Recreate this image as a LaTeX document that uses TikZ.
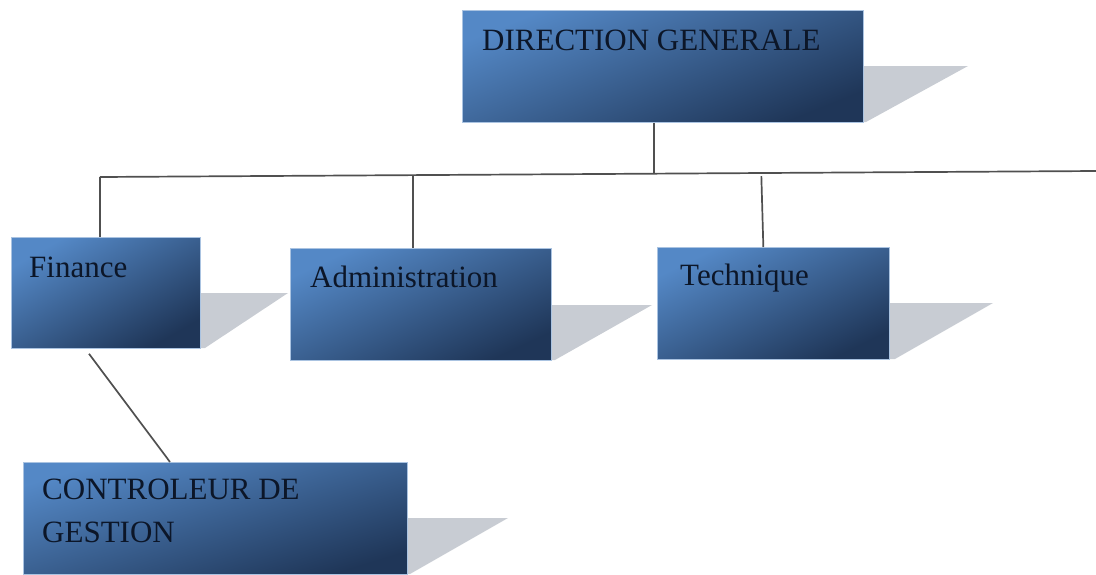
\documentclass[tikz,border=0pt]{standalone}
\usepackage{fontspec}
\setmainfont{Liberation Serif}
\usetikzlibrary{calc}
\definecolor{boxlight}{RGB}{84,136,198}
\definecolor{boxdark}{RGB}{31,54,88}
\definecolor{boxedge}{RGB}{170,195,225}
\definecolor{shadowgray}{RGB}{200,204,211}
\definecolor{ink}{RGB}{12,22,40}
\definecolor{linkgray}{RGB}{80,80,80}
\begin{document}
\begin{tikzpicture}[x=1pt,y=-1pt,
  orgbox/.style={rectangle, anchor=north west, inner sep=0pt, draw=boxedge,
    line width=0.8pt, top color=boxlight, bottom color=boxdark, shading angle=#1},
  orgbox/.default=24,
  orgtext/.style={anchor=base west, inner sep=0pt, text=ink,
    font=\fontsize{31}{40}\selectfont},
  dropshadow/.style={fill=shadowgray, draw=none},
  link/.style={draw=linkgray, line width=1.7pt}]
\useasboundingbox (0,0) rectangle (1096,574);

% cast shadows behind the boxes
\fill[dropshadow] (700,66) -- (968,66) -- (866,122) -- (700,122) -- cycle;
\fill[dropshadow] (150,293) -- (288,293) -- (205,348) -- (150,348) -- cycle;
\fill[dropshadow] (450,305) -- (652,305) -- (555,360) -- (450,360) -- cycle;
\fill[dropshadow] (800,303) -- (993,303) -- (895,359) -- (800,359) -- cycle;
\fill[dropshadow] (300,518) -- (508,518) -- (410,574) -- (300,574) -- cycle;

% boxes
\node[orgbox=22, minimum width=401pt, minimum height=112pt] (dg)  at (462,10)  {};
\node[orgbox=30, minimum width=189pt, minimum height=111pt] (fin) at (11,237)  {};
\node[orgbox=25, minimum width=261pt, minimum height=112pt] (adm) at (290,248) {};
\node[orgbox=26, minimum width=232pt, minimum height=112pt] (tec) at (657,247) {};
\node[orgbox=17, minimum width=384pt, minimum height=112pt] (cdg) at (23,462)  {};

% labels
\node[orgtext] (dgt)   at (482,50)  {DIRECTION GENERALE};
\node[orgtext] (fint)  at (29,277)  {Finance};
\node[orgtext] (admt)  at (310,287) {Administration};
\node[orgtext] (tect)  at (680,285) {Technique};
\node[orgtext] (cdgt1) at (42,499)  {CONTROLEUR DE};
\node[orgtext] (cdgt2) at (42,542)  {GESTION};

% horizontal bus and junctions
\coordinate (busL) at (100,177);
\coordinate (busR) at (1096,171);
\coordinate (jdg)  at ($(busL)!0.556!(busR)$);
\coordinate (jadm) at ($(busL)!0.314!(busR)$);
\coordinate (jtec) at ($(busL)!0.664!(busR)$);

\draw[link] (busL) -- (busR);
\draw[link] (dg.south -| jdg) -- (jdg);
\draw[link] (busL) -- (busL |- fin.north);
\draw[link] (jadm) -- (jadm |- adm.north);
\draw[link] ($(jtec)+(0,3)$) -- ($(jtec |- tec.north)+(2,0)$);
\draw[link] ($(fin.south west)+(78,5)$) -- ($(cdg.north west)+(147,0)$);
\end{tikzpicture}
\end{document}
